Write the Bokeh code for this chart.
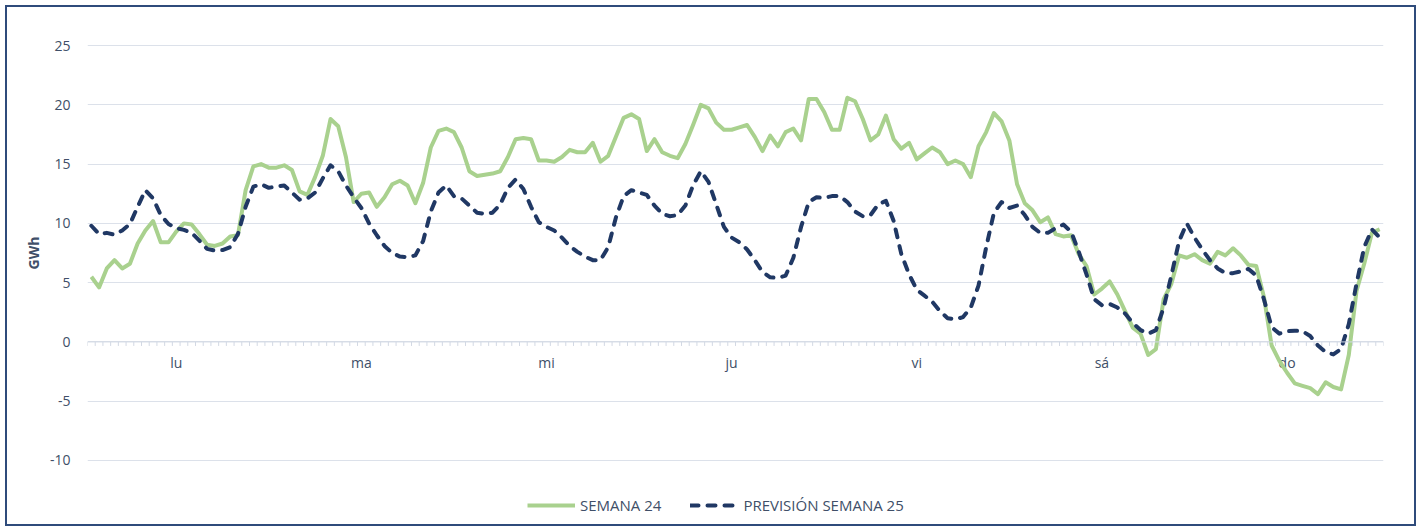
from bokeh.plotting import figure
from bokeh.models import Range1d, FixedTicker, Legend, LegendItem, Span, Title
from bokeh.core.properties import value
from bokeh.embed import file_html
from bokeh.resources import INLINE

# ---------------- data ----------------
days = ["lu", "ma", "mi", "ju", "vi", "sá", "do"]
y_ticks = [-10, -5, 0, 5, 10, 15, 20, 25]

semana_24 = [
    # lu
    5.5, 4.6, 6.2, 6.9, 6.2, 6.6, 8.3, 9.4, 10.2, 8.4, 8.4, 9.3,
    10.0, 9.9, 9.1, 8.2, 8.1, 8.3, 8.9, 9.0, 12.8, 14.8, 15.0, 14.7,
    # ma
    14.7, 14.9, 14.5, 12.7, 12.4, 13.9, 15.7, 18.8, 18.2, 15.6, 11.8, 12.5,
    12.6, 11.4, 12.2, 13.3, 13.6, 13.2, 11.7, 13.4, 16.4, 17.8, 18.0, 17.7,
    # mi
    16.4, 14.4, 14.0, 14.1, 14.2, 14.4, 15.6, 17.1, 17.2, 17.1, 15.3, 15.3,
    15.2, 15.6, 16.2, 16.0, 16.0, 16.8, 15.2, 15.7, 17.3, 18.9, 19.2, 18.8,
    # ju
    16.1, 17.1, 16.0, 15.7, 15.5, 16.7, 18.3, 20.0, 19.7, 18.5, 17.9, 17.9,
    18.1, 18.3, 17.3, 16.1, 17.4, 16.5, 17.7, 18.0, 17.0, 20.5, 20.5, 19.4,
    # vi
    17.9, 17.9, 20.6, 20.3, 18.8, 17.0, 17.5, 19.1, 17.1, 16.3, 16.8, 15.4,
    15.9, 16.4, 16.0, 15.0, 15.3, 15.0, 13.9, 16.5, 17.7, 19.3, 18.6, 17.0,
    # sá
    13.3, 11.7, 11.1, 10.1, 10.5, 9.1, 8.9, 9.0, 7.4, 6.4, 4.0, 4.5,
    5.1, 4.0, 2.6, 1.2, 0.7, -1.1, -0.6, 3.6, 4.9, 7.3, 7.1, 7.4,
    # do
    6.9, 6.6, 7.6, 7.3, 7.9, 7.3, 6.5, 6.4, 3.8, -0.3, -1.6, -2.6,
    -3.5, -3.7, -3.9, -4.4, -3.4, -3.8, -4.0, -1.1, 4.3, 6.6, 9.2, 9.5,
]

prevision_25 = [
    # lu
    9.8, 9.1, 9.2, 9.05, 9.4, 9.95, 11.4, 12.8, 12.1, 10.7, 9.95, 9.6,
    9.45, 9.2, 8.55, 7.85, 7.7, 7.75, 8.0, 9.1, 11.4, 13.1, 13.3, 13.0,
    # ma
    13.1, 13.2, 12.6, 12.0, 12.1, 12.6, 13.8, 14.9, 14.4, 13.2, 12.2, 11.3,
    10.0, 9.0, 8.1, 7.5, 7.2, 7.15, 7.3, 8.5, 11.0, 12.6, 13.2, 12.3,
    # mi
    12.1, 11.5, 10.9, 10.8, 10.9, 11.6, 13.0, 13.7, 12.9, 11.4, 10.1, 9.7,
    9.4, 8.8, 8.1, 7.6, 7.2, 6.9, 6.9, 8.0, 10.5, 12.3, 12.8, 12.6,
    # ju
    12.4, 11.5, 10.8, 10.6, 10.7, 11.5, 13.2, 14.4, 13.5, 11.6, 9.7, 8.8,
    8.4, 7.8, 6.9, 5.9, 5.45, 5.4, 5.6, 7.1, 9.7, 11.8, 12.2, 12.15,
    # vi
    12.3, 12.3, 11.8, 11.0, 10.6, 10.7, 11.6, 11.9, 10.2, 7.4, 5.7, 4.4,
    3.9, 3.4, 2.6, 2.0, 1.9, 2.1, 2.9, 4.75, 8.0, 10.9, 11.8, 11.3,
    # sá
    11.5, 10.7, 9.7, 9.2, 9.2, 9.6, 9.9, 9.3, 7.6, 5.7, 3.6, 3.1,
    3.2, 2.9, 2.4, 1.6, 1.0, 0.7, 1.0, 2.9, 5.6, 8.5, 10.0, 8.8,
    # do
    7.8, 6.9, 6.2, 5.8, 5.8, 5.95, 6.15, 5.6, 3.6, 1.25, 0.7, 0.9,
    0.95, 0.9, 0.5, -0.3, -0.85, -1.05, -0.6, 1.5, 4.9, 8.0, 9.5, 8.8,
]

# ---------------- styling ----------------
GREEN = "#A9D18E"
NAVY = "#203864"
TEXT = "#404F68"
GRID = "#DCE1EA"
FONT = "Open Sans"

n = len(semana_24)
per_day = n // len(days)
hours = [i + 0.5 for i in range(n)]

# frame spans the full figure height; gridlines only at y_ticks
p = figure(width=1421, height=531, output_backend="svg", toolbar_location=None,
           title=None, x_range=Range1d(0, n), y_range=Range1d(-15.99, 28.80),
           x_axis_location=None,
           min_border_left=87, min_border_right=38, min_border_top=0,
           min_border_bottom=0)
p.outline_line_color = None
p.background_fill_color = None
p.border_fill_color = None
p.styles = {"outline": "2px solid #2F4B7B", "outline-offset": "-7px",
            "background-color": "white"}

p.yaxis.ticker = FixedTicker(ticks=y_ticks)
p.yaxis.major_label_overrides = {t: str(t) for t in y_ticks}
p.yaxis.axis_line_color = None
p.yaxis.major_tick_line_color = None
p.yaxis.minor_tick_line_color = None
p.yaxis.major_tick_out = 0
p.yaxis.major_tick_in = 0
p.yaxis.major_label_standoff = 17
p.yaxis.major_label_text_font = FONT
p.yaxis.major_label_text_font_size = "14px"
p.yaxis.major_label_text_color = TEXT
p.ygrid.grid_line_color = GRID
p.xgrid.visible = False

p.add_layout(Title(text="GWh", align="left", offset=262, standoff=7,
                   text_font=FONT, text_font_style="bold", text_font_size="14px",
                   text_color=TEXT), "left")

# category axis drawn on the zero line
p.add_layout(Span(location=0, dimension="width", line_color="#D3D9E4", line_width=1))
tick_x = list(range(n + 1))
p.segment(x0=tick_x, y0=[0] * len(tick_x), x1=tick_x, y1=[-0.34] * len(tick_x),
          line_color="#D3D9E4", line_width=1)
p.text(x=[per_day * d + per_day / 2 - 0.5 for d in range(len(days))], y=[-1.75] * len(days),
       text=days, text_align="center", text_baseline="middle",
       text_font=value(FONT), text_font_size="14px", text_color=TEXT)

r1 = p.line(hours, semana_24, line_color=GREEN, line_width=4, line_join="round")
r2 = p.line(hours, prevision_25, line_color=NAVY, line_width=4, line_dash="8 9",
            line_cap="round", line_join="round")

legend = Legend(items=[LegendItem(label="SEMANA 24", renderers=[r1]),
                       LegendItem(label="PREVISIÓN SEMANA 25", renderers=[r2])],
                orientation="horizontal", location=(440, 16),
                border_line_color=None, background_fill_alpha=0,
                glyph_width=48, label_standoff=5, spacing=29, padding=0, margin=0,
                label_text_font=FONT, label_text_font_size="15px",
                label_text_color=TEXT)
p.add_layout(legend, "center")

open("out.html", "w").write(file_html(p, INLINE))
